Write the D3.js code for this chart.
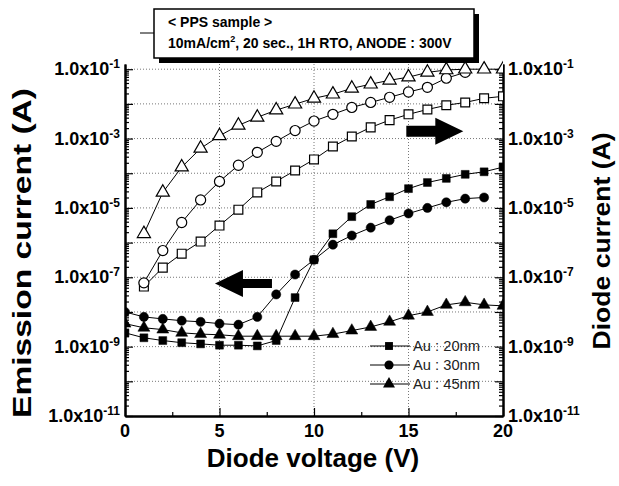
<!DOCTYPE html>
<html>
<head>
<meta charset="utf-8">
<script src="https://cdn.jsdelivr.net/npm/d3@7"></script>
<style>
  body { margin: 0; background: #fff; }
  svg { display: block; font-family: "Liberation Sans", Arial, sans-serif; }
</style>
</head>
<body>
<div id="chart"></div>
<script>
// Daten
const voltage = d3.range(0, 21);

// Diodenstrom (offene Symbole), ab 1 V
const diode20 = [null, 5.4e-8, 1.9e-7, 4.8e-7, 1.07e-6, 3.1e-6, 8.9e-6, 2.8e-5, 5.8e-5, 1.2e-4, 2.5e-4,
  5.9e-4, 1.15e-3, 2.1e-3, 3.4e-3, 5.0e-3, 6.9e-3, 9.1e-3, 1.1e-2, 1.45e-2, 1.65e-2];
const diode30 = [null, 6.9e-8, 5.9e-7, 3.8e-6, 1.7e-5, 5.8e-5, 1.7e-4, 4.0e-4, 8.3e-4, 1.7e-3, 3.2e-3,
  5.0e-3, 7.9e-3, 1.1e-2, 1.55e-2, 2.2e-2, 3.0e-2, 5.5e-2, 8.1e-2, null, null];
const diode45 = [null, 1.8e-6, 2.8e-5, 1.5e-4, 5.2e-4, 1.2e-3, 2.4e-3, 4.1e-3, 6.6e-3, 9.8e-3, 1.45e-2,
  1.9e-2, 2.8e-2, 3.7e-2, 4.8e-2, 5.9e-2, 8.1e-2, 9.5e-2, 1.0e-1, 1.0e-1, 1.0e-1];

// Emissionsstrom (gefüllte Symbole)
const emis20 = [2.5e-9, 1.8e-9, 1.5e-9, 1.3e-9, 1.2e-9, 1.1e-9, 1.1e-9, 1.05e-9, 1.5e-9, 2.6e-8, 3.2e-7,
  1.8e-6, 5.6e-6, 1.26e-5, 2.1e-5, 3.6e-5, 5.4e-5, 7.1e-5, 9.3e-5, 1.1e-4, 1.5e-4];
const emis30 = [1.0e-8, 7.2e-9, 6.3e-9, 5.6e-9, 5.2e-9, 4.6e-9, 4.3e-9, 7.2e-9, 3.2e-8, 1.2e-7, 3.2e-7,
  8.7e-7, 1.6e-6, 2.7e-6, 4.4e-6, 6.9e-6, 1.0e-5, 1.45e-5, 1.85e-5, 2.0e-5, null];
const emis45 = [4.6e-9, 3.5e-9, 3.1e-9, 2.5e-9, 2.3e-9, 2.2e-9, 2.0e-9, 2.0e-9, 2.0e-9, 2.0e-9, 2.0e-9,
  2.3e-9, 2.9e-9, 3.7e-9, 5.2e-9, 7.8e-9, 1.0e-8, 1.6e-8, 1.9e-8, 1.6e-8, 1.5e-8];

const xTicks = [0, 5, 10, 15, 20];
const yExponents = [-1, -3, -5, -7, -9, -11];
const legendLabels = ["Au : 20nm", "Au : 30nm", "Au : 45nm"];

// Konfiguration
const width = 619, height = 486;
const x = d3.scaleLinear().domain([0, 20]).range([125, 503]);
const y = d3.scaleLog().domain([1e-11, Math.pow(10, -0.85)]).range([416, 64]);

const svg = d3.select("#chart").append("svg")
  .attr("width", width).attr("height", height);

svg.append("clipPath").attr("id", "plotClip")
  .append("rect").attr("x", x(0)).attr("y", 60).attr("width", x(20) - x(0)).attr("height", y(1e-11) - 60);

// Gitterlinien
const decades = d3.range(-10, 0).map(e => Math.pow(10, e));
svg.append("g").selectAll("line").data(decades).join("line")
  .attr("x1", x(0)).attr("x2", x(20))
  .attr("y1", d => y(d)).attr("y2", d => y(d))
  .attr("stroke", "#777").attr("stroke-width", 1).attr("stroke-dasharray", "1,2");
svg.append("g").selectAll("line").data([5, 10, 15]).join("line")
  .attr("x1", d => x(d)).attr("x2", d => x(d))
  .attr("y1", y(1e-11)).attr("y2", y(Math.pow(10, -0.85)))
  .attr("stroke", "#777").attr("stroke-width", 1).attr("stroke-dasharray", "1,2");

// Achsen
const majorY = d3.range(-11, 0).map(e => Math.pow(10, e));
const minorY = [];
d3.range(-11, -1).forEach(e => { for (let k = 2; k < 10; k++) minorY.push(k * Math.pow(10, e)); });

function styleAxis(g) {
  g.selectAll("path").attr("stroke", "#000").attr("stroke-width", 2);
  g.selectAll("line").attr("stroke", "#000").attr("stroke-width", 1.2);
}

svg.append("g").attr("transform", `translate(${x(0)},0)`)
  .call(d3.axisRight(y).tickValues(majorY).tickSize(8).tickSizeOuter(0).tickFormat(""))
  .call(styleAxis);
svg.append("g").attr("transform", `translate(${x(0)},0)`)
  .call(d3.axisRight(y).tickValues(minorY).tickSize(4).tickSizeOuter(0).tickFormat(""))
  .call(styleAxis);
svg.append("g").attr("transform", `translate(${x(20)},0)`)
  .call(d3.axisLeft(y).tickValues(majorY).tickSize(8).tickSizeOuter(0).tickFormat(""))
  .call(styleAxis);
svg.append("g").attr("transform", `translate(${x(20)},0)`)
  .call(d3.axisLeft(y).tickValues(minorY).tickSize(4).tickSizeOuter(0).tickFormat(""))
  .call(styleAxis);
svg.append("g").attr("transform", `translate(0,${y(1e-11)})`)
  .call(d3.axisTop(x).tickValues(xTicks).tickSize(8).tickSizeOuter(0).tickFormat(""))
  .call(styleAxis);
svg.append("g").attr("transform", `translate(0,${y(1e-11)})`)
  .call(d3.axisTop(x).tickValues([2.5, 7.5, 12.5, 17.5]).tickSize(4).tickSizeOuter(0).tickFormat(""))
  .call(styleAxis);

// Achsenbeschriftungen
svg.append("g").selectAll("text").data(xTicks).join("text")
  .attr("x", d => x(d)).attr("y", 437)
  .attr("text-anchor", "middle")
  .style("font-size", "18px").style("font-weight", "bold")
  .text(d => d);

function yLabel(sel, anchor, xpos) {
  const t = sel.selectAll("text").data(yExponents).join("text")
    .attr("x", xpos).attr("y", d => y(Math.pow(10, d)) + 6)
    .attr("text-anchor", anchor)
    .style("font-size", "18px").style("font-weight", "bold");
  t.append("tspan").text("1.0x10");
  t.append("tspan").attr("dy", -7).style("font-size", "12px").text(d => d);
}
svg.append("g").call(yLabel, "end", 120);
svg.append("g").call(yLabel, "start", 508);

svg.append("text")
  .attr("transform", "translate(31,253) rotate(-90)")
  .attr("text-anchor", "middle")
  .attr("textLength", 330).attr("lengthAdjust", "spacingAndGlyphs")
  .style("font-size", "26px").style("font-weight", "bold")
  .text("Emission current (A)");
svg.append("text")
  .attr("transform", "translate(610,241) rotate(-90)")
  .attr("text-anchor", "middle")
  .attr("textLength", 217).attr("lengthAdjust", "spacingAndGlyphs")
  .style("font-size", "23px").style("font-weight", "bold")
  .text("Diode current (A)");
svg.append("text")
  .attr("x", 313).attr("y", 467)
  .attr("text-anchor", "middle")
  .style("font-size", "26px").style("font-weight", "bold")
  .text("Diode voltage (V)");

// Datenreihen
const series = [
  { values: diode20, shape: d3.symbolSquare, size: 78, open: true },
  { values: diode30, shape: d3.symbolCircle, size: 80, open: true },
  { values: diode45, shape: d3.symbolTriangle, size: 75, open: true },
  { values: emis20, shape: d3.symbolSquare, size: 62, open: false },
  { values: emis30, shape: d3.symbolCircle, size: 66, open: false },
  { values: emis45, shape: d3.symbolTriangle, size: 62, open: false }
];

const line = d3.line()
  .defined(d => d.v != null)
  .x(d => x(d.x)).y(d => y(d.v));

const plot = svg.append("g").attr("clip-path", "url(#plotClip)");

series.forEach(s => {
  const pts = voltage.map((v, i) => ({ x: v, v: s.values[i] }));
  plot.append("path")
    .datum(pts)
    .attr("fill", "none").attr("stroke", "#000").attr("stroke-width", 1)
    .attr("d", line);
  plot.append("g").selectAll("path")
    .data(pts.filter(d => d.v != null))
    .join("path")
    .attr("transform", d => `translate(${x(d.x)},${y(d.v)})`)
    .attr("d", d3.symbol().type(s.shape).size(s.size))
    .attr("fill", s.open ? "#fff" : "#000")
    .attr("stroke", "#000").attr("stroke-width", s.open ? 1.2 : 0.5);
});

// Pfeile
function arrow(tipX, tipY, dir, shaftHalf) {
  const pts = [[0, 0], [28, -13.5], [28, -shaftHalf], [57, -shaftHalf], [57, shaftHalf], [28, shaftHalf], [28, 13.5]]
    .map(p => [tipX + dir * p[0], tipY + p[1]]);
  svg.append("polygon").attr("points", pts.map(p => p.join(",")).join(" ")).attr("fill", "#000");
}
arrow(x(4.76), y(Math.pow(10, -7.18)), 1, 4.5);
arrow(x(17.9), y(Math.pow(10, -2.79)), -1, 5.5);

// Legende
const legend = svg.append("g");
legendLabels.forEach((label, i) => {
  const s = series[3 + i];
  const g = legend.append("g").attr("transform", `translate(0,${346 + i * 19})`);
  g.append("line").attr("x1", 370).attr("x2", 410).attr("stroke", "#000").attr("stroke-width", 1);
  g.append("path").attr("transform", "translate(389,0)")
    .attr("d", d3.symbol().type(s.shape).size(s.size)).attr("fill", "#000");
  g.append("text").attr("x", 413).attr("y", 5)
    .attr("textLength", 67).attr("lengthAdjust", "spacingAndGlyphs")
    .style("font-size", "15px").style("fill", "#222").text(label);
});

// Titelbox
const box = svg.append("g");
box.append("line").attr("x1", 140).attr("x2", 154).attr("y1", 33).attr("y2", 33)
  .attr("stroke", "#000").attr("stroke-width", 1);
box.append("rect").attr("x", 159).attr("y", 14).attr("width", 320).attr("height", 49).attr("fill", "#000");
box.append("rect").attr("x", 154).attr("y", 9).attr("width", 320).attr("height", 49)
  .attr("fill", "#fff").attr("stroke", "#000").attr("stroke-width", 1.5);
box.append("text").attr("x", 168).attr("y", 27)
  .style("font-size", "14px").style("font-weight", "bold").text("< PPS sample >");
const t2 = box.append("text").attr("x", 168).attr("y", 48)
  .style("font-size", "14px").style("font-weight", "bold");
t2.append("tspan").text("10mA/cm");
t2.append("tspan").attr("dy", -6).style("font-size", "9px").text("2");
t2.append("tspan").attr("dy", 6).text(", 20 sec., 1H RTO, ANODE : 300V");
</script>
</body>
</html>
